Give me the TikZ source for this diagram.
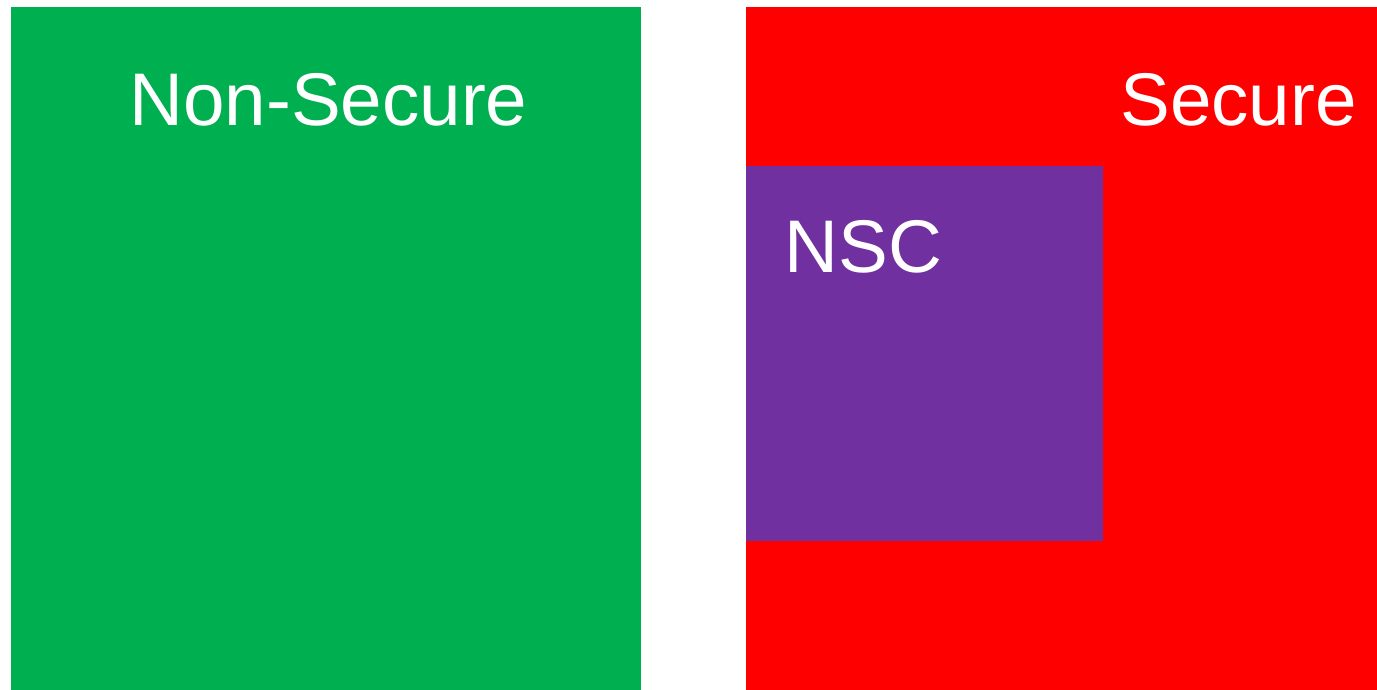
\documentclass[tikz,border=0pt]{standalone}
\usepackage{fontspec}
\setmainfont{Liberation Sans}
\definecolor{nsgreen}{HTML}{00AF50}
\definecolor{sred}{HTML}{FF0000}
\definecolor{nscpurple}{HTML}{7030A0}
\tikzset{
  zonelabel/.style={text=white, font=\fontsize{37.3}{44}\selectfont, inner sep=0pt, anchor=base}
}
\begin{document}
\begin{tikzpicture}[x=0.5pt, y=-0.5pt]
	\useasboundingbox (0,0) rectangle (1377,690);
	% define corners
	\coordinate (NStl) at (11,7);
	\coordinate (NSbr) at (641,690);
	\coordinate (Stl) at (746,7);
	\coordinate (Sbr) at (1377,690);
	\coordinate (NSCtl) at (746,166);
	\coordinate (NSCbr) at (1103,541);
	% zones
	\fill[nsgreen] (NStl) rectangle (NSbr);
	\fill[sred] (Stl) rectangle (Sbr);
	\fill[nscpurple] (NSCtl) rectangle (NSCbr);
	% labels
	\node[zonelabel] (nonsecure) at (328.5,126) {Non-Secure};
	\node[zonelabel, anchor=base east] (secure) at (1357,126) {Secure};
	\node[zonelabel, anchor=base west] (nsc) at (784,272) {NSC};
\end{tikzpicture}
\end{document}
